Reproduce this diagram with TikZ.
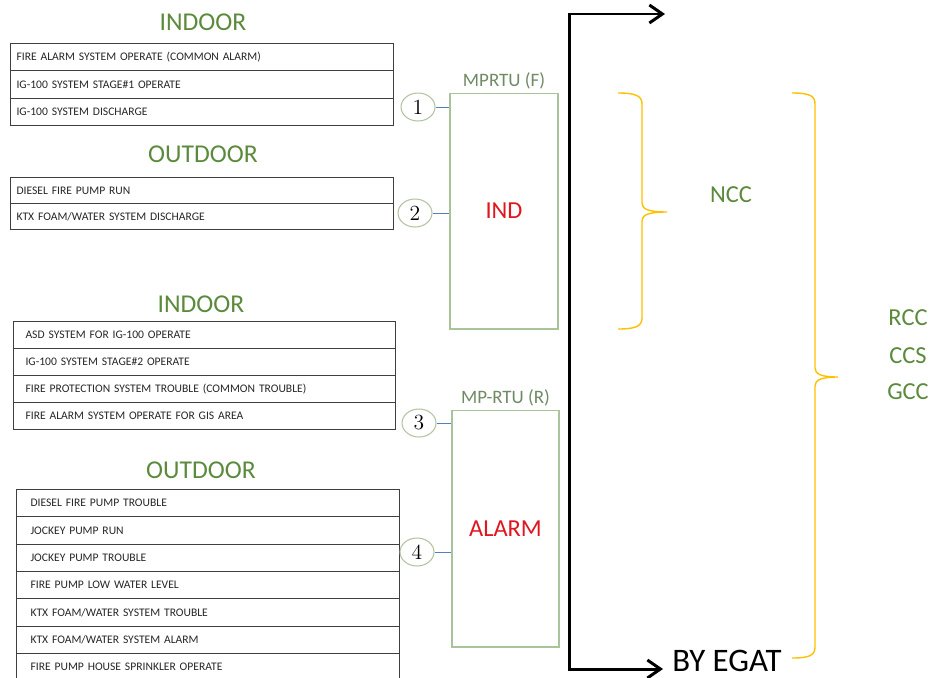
\documentclass[tikz,border=0pt]{standalone}
\usepackage{fontspec}
\setsansfont{Carlito}
\usetikzlibrary{arrows.meta,calc,positioning,shapes.geometric}
\definecolor{leaf}{HTML}{5B8A3C}
\definecolor{sage}{HTML}{6F8A64}
\definecolor{frame}{HTML}{A9C49A}
\definecolor{ring}{HTML}{B3C2A2}
\definecolor{wire}{HTML}{4F81BD}
\definecolor{grid}{HTML}{3F3F3F}
\definecolor{alert}{HTML}{E0161E}
\definecolor{amber}{HTML}{FFC000}

\begin{document}
\begin{tikzpicture}[x=0.02cm,y=-0.02cm,font=\sffamily,
  >={Straight Barb[length=2.6mm,width=3.6mm]},
  row/.style={draw=grid,line width=.6pt,anchor=north west,
    minimum width=7.66cm,text width=#1,align=left,inner ysep=0pt,
    font=\sffamily\fontsize{6.6}{7.5}\selectfont,text=black!85},
  head/.style={text=leaf,inner sep=0pt,font=\sffamily\fontsize{14.6}{16}\selectfont},
  unitbox/.style={draw=frame,line width=.6pt,text=alert,
    font=\sffamily\fontsize{13.9}{15}\selectfont},
  unitlbl/.style={text=sage,inner sep=0pt,font=\sffamily\fontsize{10.8}{12}\selectfont},
  pin/.style={ellipse,draw=ring,line width=.6pt,inner sep=0pt,
    minimum width=.68cm,minimum height=.56cm,
    font=\rmfamily\fontsize{12.3}{13}\selectfont},
  link/.style={draw=wire,line width=.5pt},
  net/.style={text=leaf,inner sep=0pt,font=\sffamily\fontsize{13.9}{15}\selectfont},
  bus/.style={line width=1.7pt,<->},
  curly/.style={draw=amber,line width=.8pt}]
  \useasboundingbox (0,0) rectangle (932,677);

  \node[head] (inA) at (203,22) {INDOOR};
  \foreach \txt [count=\i] in {FIRE ALARM SYSTEM OPERATE (COMMON ALARM),
      IG-100 SYSTEM STAGE\#1 OPERATE,IG-100 SYSTEM DISCHARGE}{
    \pgfmathsetmacro{\yy}{43+27.3*(\i-1)}
    \node[row=7.42cm,inner xsep=.12cm,minimum height=.546cm]
      (ta\i) at (10,\yy) {\txt};
  }

  \node[head] (outA) at (203,154) {OUTDOOR};
  \foreach \txt [count=\i] in {DIESEL FIRE PUMP RUN,
      KTX FOAM/WATER SYSTEM DISCHARGE}{
    \pgfmathsetmacro{\yy}{177+26*(\i-1)}
    \node[row=7.42cm,inner xsep=.12cm,minimum height=.52cm]
      (tb\i) at (10,\yy) {\txt};
  }

  \node[head] (inB) at (201,304) {INDOOR};
  \foreach \txt [count=\i] in {ASD SYSTEM FOR IG-100 OPERATE,
      IG-100 SYSTEM STAGE\#2 OPERATE,
      FIRE PROTECTION SYSTEM TROUBLE (COMMON TROUBLE),
      FIRE ALARM SYSTEM OPERATE FOR GIS AREA}{
    \pgfmathsetmacro{\yy}{321+27*(\i-1)}
    \node[row=7.16cm,inner xsep=.24cm,minimum height=.54cm,minimum width=7.64cm]
      (tc\i) at (13,\yy) {\txt};
  }

  \node[head] (outB) at (201,470) {OUTDOOR};
  \foreach \txt [count=\i] in {DIESEL FIRE PUMP TROUBLE,JOCKEY PUMP RUN,
      JOCKEY PUMP TROUBLE,FIRE PUMP LOW WATER LEVEL,
      KTX FOAM/WATER SYSTEM TROUBLE,KTX FOAM/WATER SYSTEM ALARM,
      FIRE PUMP HOUSE SPRINKLER OPERATE}{
    \pgfmathsetmacro{\yy}{489+27.3*(\i-1)}
    \node[row=7.10cm,inner xsep=.28cm,minimum height=.546cm]
      (td\i) at (16,\yy) {\txt};
  }

  \node[unitbox,minimum width=2.16cm,minimum height=4.72cm]
    (box1) at (504,211) {IND};
  \node[unitbox,minimum width=2.14cm,minimum height=4.74cm]
    (box2) at (505.5,528.5) {ALARM};
  \node[unitlbl,above=.6mm of box1] (lblF) {MPRTU (F)};
  \node[unitlbl,above=.6mm of box2] (lblR) {MP-RTU (R)};

  \node[pin] (p1) at (418,107) {1};
  \node[pin] (p2) at (415,213) {2};
  \node[pin] (p3) at (419,423) {3};
  \node[pin] (p4) at (417,552) {4};
  \draw[link] (p1) -- (p1 -| box1.west);
  \draw[link] (p2) -- (p2 -| box1.west);
  \draw[link] (p3) -- (p3 -| box2.west);
  \draw[link] (p4) -- (p4 -| box2.west);

  \node[anchor=base west,inner sep=0pt,font=\sffamily\fontsize{18.7}{20}\selectfont]
    (egat) at (672,671) {BY EGAT};
  \coordinate (outtop) at (665,14);
  \coordinate (outbot) at ($(egat.base west)+(-9,-2)$);
  \draw[bus] (outtop) -- ++(-96,0) |- (outbot);

  \draw[curly] (618,93) .. controls (636,93) and (642,96) .. (642,104)
    -- (642,203) .. controls (642,209) and (648,212) .. (667,212)
    .. controls (648,212) and (642,215) .. (642,221)
    -- (642,318) .. controls (642,326) and (636,329) .. (618,329);
  \draw[curly] (792,93) .. controls (810,93) and (815,96) .. (815,104)
    -- (815,368) .. controls (815,374) and (821,377) .. (838,377)
    .. controls (821,377) and (815,380) .. (815,386)
    -- (815,647) .. controls (815,655) and (810,658) .. (792,658);
  \node[net] (ncc) at (731,195) {NCC};
  \node[net] (rcc) at (908,318) {RCC};
  \node[net] (ccs) at (908,356) {CCS};
  \node[net] (gcc) at (908,392) {GCC};
\end{tikzpicture}
\end{document}
